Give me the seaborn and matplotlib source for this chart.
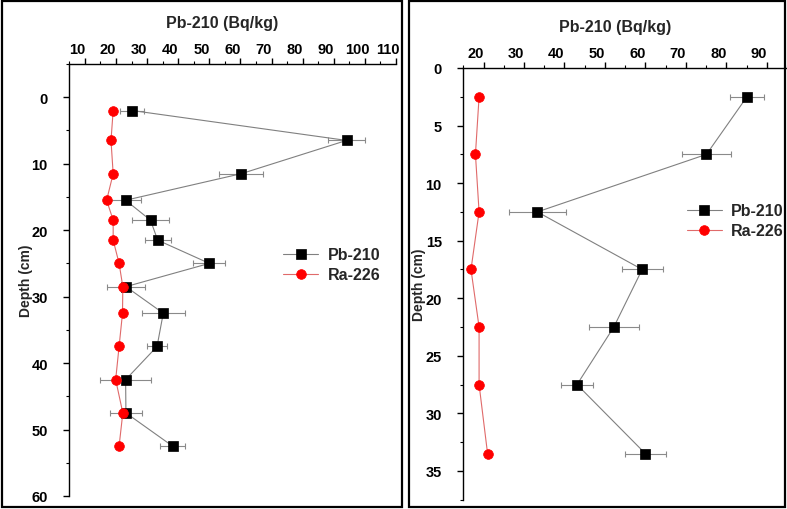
import seaborn as sns
import pandas as pd
import matplotlib.pyplot as plt
import numpy as np
from matplotlib.patches import Rectangle
from matplotlib.transforms import ScaledTranslation
from matplotlib.ticker import MultipleLocator, FixedLocator

# core A (left panel)
depth_a = [2, 6.5, 11.5, 15.5, 18.5, 21.5, 25, 28.5, 32.5, 37.5, 42.5, 47.5, 52.5]
pb_a = [25.2, 94.1, 60.3, 23.1, 31.1, 33.4, 50.0, 23.2, 35.2, 33.2, 23.1, 23.2, 38.2]
pb_err_a = [3.8, 5.8, 7.1, 5.1, 6.1, 4.2, 5.2, 6.1, 6.9, 3.1, 8.2, 5.2, 3.9]
ra_a = [19.1, 18.4, 19.1, 17.0, 19.1, 19.1, 21.0, 22.2, 22.1, 21.0, 19.9, 22.2, 21.0]

# core B (right panel)
depth_b = [2.5, 7.5, 12.5, 17.5, 22.5, 27.5, 33.5]
pb_b = [85.1, 75.1, 33.3, 59.2, 52.2, 43.1, 60.0]
pb_err_b = [4.1, 6.0, 7.0, 5.1, 6.1, 4.0, 5.0]
ra_b = [18.9, 18.0, 18.9, 16.9, 18.9, 18.9, 21.0]

xticks_a = list(range(10, 111, 10))
yticks_a = list(range(0, 61, 10))
xticks_b = list(range(20, 91, 10))
yticks_b = list(range(0, 36, 5))

sns.set_style('ticks')
plt.rcParams['font.family'] = ['Liberation Sans', 'DejaVu Sans']
plt.rcParams['font.weight'] = 'bold'
plt.rcParams['axes.labelweight'] = 'bold'

W, H = 787, 510
fig = plt.figure(figsize=(W / 100, H / 100), dpi=100)


def px_axes(x0, x1, ytop, ybot):
    return fig.add_axes([x0 / W, 1 - ybot / H, (x1 - x0) / W, (ybot - ytop) / H])


def draw_panel(ax, depth, pb, pb_err, ra, xlim, ylim, xticks, yticks,
               xminor, yminor, leg_anchor, ylab_x, title_x):
    df = pd.DataFrame({'depth': depth, 'pb': pb, 'err': pb_err, 'ra': ra})

    ax.errorbar(df['pb'], df['depth'], xerr=df['err'], fmt='none',
                ecolor='#8a8a8a', elinewidth=0.8, capsize=2.5, capthick=0.8,
                zorder=2)
    sns.lineplot(data=df, x='pb', y='depth', orient='y', sort=False,
                 estimator=None, color='#808080', linewidth=0.8,
                 marker='s', markersize=7.5, markerfacecolor='black',
                 markeredgecolor='black', markeredgewidth=0.5,
                 label='Pb-210', ax=ax, zorder=3)
    sns.lineplot(data=df, x='ra', y='depth', orient='y', sort=False,
                 estimator=None, color='#e06a6a', linewidth=0.8,
                 marker='o', markersize=7, markerfacecolor='#ff0000',
                 markeredgecolor='#ff0000', markeredgewidth=0.5,
                 label='Ra-226', ax=ax, zorder=4)

    ax.set_xlim(*xlim)
    ax.set_ylim(*ylim)
    ax.xaxis.tick_top()
    ax.xaxis.set_label_position('top')
    ax.xaxis.set_major_locator(FixedLocator(xticks))
    ax.yaxis.set_major_locator(FixedLocator(yticks))
    ax.xaxis.set_minor_locator(MultipleLocator(xminor))
    ax.yaxis.set_minor_locator(MultipleLocator(yminor))
    for s in ['right', 'bottom']:
        ax.spines[s].set_visible(False)
    for s in ['top', 'left']:
        ax.spines[s].set_linewidth(1.0)
        ax.spines[s].set_color('black')
    ax.tick_params(which='major', length=4.5, width=1, colors='black',
                   labelsize=10.5)
    ax.tick_params(which='minor', length=2.5, width=0.8, colors='black')
    ax.tick_params(axis='x', which='major', pad=1)
    ax.tick_params(axis='y', which='major', pad=11)

    ax.set_xlabel('Pb-210 (Bq/kg)', fontsize=11.5, fontweight='bold')
    ax.xaxis.set_label_coords(title_x, 1.085)
    ax.set_ylabel('Depth (cm)', fontsize=10, fontweight='bold')
    ax.yaxis.set_label_coords(ylab_x, 0.5)

    shift = ScaledTranslation(-0.08, 0, fig.dpi_scale_trans)
    for lab in ax.get_xticklabels():
        lab.set_transform(lab.get_transform() + shift)

    ax.legend(loc='center left', bbox_to_anchor=leg_anchor, frameon=False,
              fontsize=11.5, handlelength=2.2, handletextpad=0.6,
              labelspacing=0.3, borderaxespad=0)


ax1 = px_axes(69.3, 396, 65, 497)
draw_panel(ax1, depth_a, pb_a, pb_err_a, ra_a, (5, 110), (60, -5),
           xticks_a, yticks_a, 5, 5, (0.635, 0.535), -0.111, 0.467)

ax2 = px_axes(463.3, 787, 69, 500.7)
draw_panel(ax2, depth_b, pb_b, pb_err_b, ra_b, (15, 95), (37.5, 0),
           xticks_b, yticks_b, 5, 2.5, (0.67, 0.646), -0.115, 0.469)

# panel frames
for x0, x1 in [(2, 402), (409, 785)]:
    fig.add_artist(Rectangle((x0 / W, 2 / H), (x1 - x0) / W, (H - 4) / H,
                             transform=fig.transFigure, fill=False,
                             lw=1.6, ec='black'))

fig.savefig('out.png', dpi=100)
